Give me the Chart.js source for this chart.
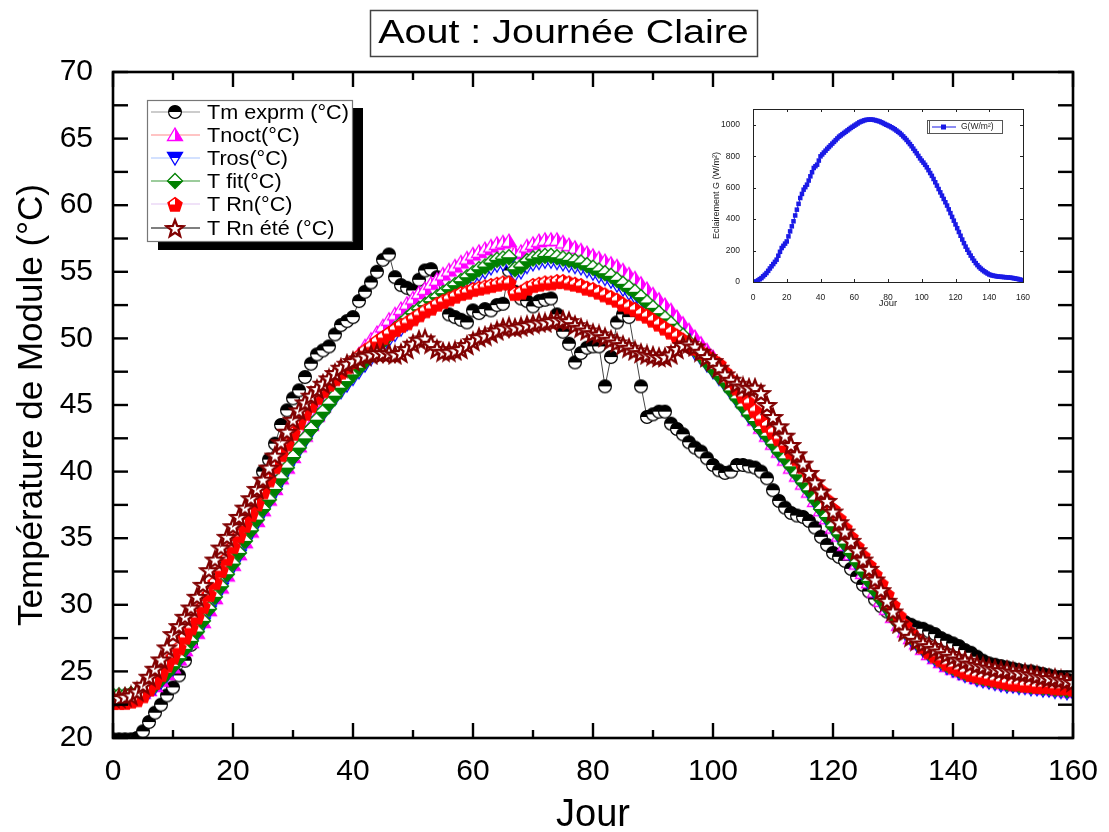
<!DOCTYPE html>
<html><head><meta charset="utf-8">
<script src="https://cdn.jsdelivr.net/npm/chart.js@4.4.0/dist/chart.umd.min.js"></script>
<style>html,body{margin:0;padding:0;background:#fff;}#wrap{position:relative;width:1109px;height:832px;}#main{position:absolute;left:0;top:0;}#inset{position:absolute;left:700px;top:95px;}</style>
</head><body><div id="wrap"><canvas id="main" width="1109" height="832"></canvas><canvas id="inset" width="340" height="215"></canvas></div>
<script>
const FONT = "'Liberation Sans', Arial, Helvetica, sans-serif";
const titre = 'Aout : Journée Claire';
const jours = [0,1,2,3,4,5,6,7,8,9,10,11,12,13,14,15,16,17,18,19,20,21,22,23,24,25,26,27,28,29,30,31,32,33,34,35,36,37,38,39,40,41,42,43,44,45,46,47,48,49,50,51,52,53,54,55,56,57,58,59,60,61,62,63,64,65,66,67,68,69,70,71,72,73,74,75,76,77,78,79,80,81,82,83,84,85,86,87,88,89,90,91,92,93,94,95,96,97,98,99,100,101,102,103,104,105,106,107,108,109,110,111,112,113,114,115,116,117,118,119,120,121,122,123,124,125,126,127,128,129,130,131,132,133,134,135,136,137,138,139,140,141,142,143,144,145,146,147,148,149,150,151,152,153,154,155,156,157,158,159,160];
const xTicks = [0,20,40,60,80,100,120,140,160];
const yTicks = [20,25,30,35,40,45,50,55,60,65,70];
const tmExprm = [19.9,19.9,19.9,19.9,20.0,20.5,21.2,21.9,22.5,23.2,
23.8,24.7,25.8,27.0,28.1,29.3,30.5,31.3,32.3,33.1,
33.9,34.8,35.6,37.6,38.4,40.0,40.9,42.1,43.5,44.6,
45.5,46.1,47.1,48.1,48.8,49.1,49.4,50.3,51.0,51.3,
51.6,52.8,53.5,54.2,55.0,55.9,56.3,54.6,54.0,53.8,
53.6,54.4,55.1,55.2,54.6,52.8,51.8,51.6,51.4,51.2,
52.1,51.9,52.2,52.1,52.5,52.6,55.1,53.5,53.0,52.8,
52.4,52.8,52.9,53.0,51.8,50.5,49.6,48.2,48.9,49.3,
49.4,49.4,46.4,48.6,51.2,51.8,51.6,null,46.4,44.1,
44.3,44.5,44.5,43.6,43.2,42.8,42.2,41.8,41.5,41.0,
40.5,40.1,39.9,40.0,40.5,40.5,40.4,40.3,40.0,39.5,
38.6,37.8,37.3,36.9,36.7,36.6,36.3,35.8,35.1,34.5,
33.9,33.6,33.3,32.7,32.1,31.5,31.0,30.4,29.9,29.5,
29.2,28.9,28.7,28.5,28.3,28.2,28.0,27.8,27.5,27.3,
27.1,26.9,26.6,26.4,26.1,25.8,25.6,25.5,25.4,25.3,
25.2,25.1,25.0,25.0,24.9,24.8,24.7,24.6,24.5,24.4,
24.3];
const tNoct = [23.2,23.2,23.2,23.3,23.3,23.4,23.6,23.9,24.3,24.8,
25.3,25.9,26.6,27.2,27.9,28.7,29.6,30.5,31.3,32.2,
33.0,33.8,34.7,35.5,36.3,37.1,37.9,38.7,39.5,40.3,
41.1,41.9,42.7,43.5,44.2,44.9,45.6,46.3,47.0,47.6,
48.2,48.8,49.4,49.9,50.4,50.9,51.4,51.8,52.2,52.6,
53.0,53.4,53.7,54.1,54.4,54.8,55.1,55.4,55.7,56.0,
56.3,56.5,56.7,56.9,57.1,57.2,57.3,56.4,56.5,56.9,
57.1,57.3,57.4,57.4,57.4,57.2,57.0,56.8,56.6,56.4,
56.2,56.0,55.8,55.6,55.4,55.1,54.8,54.5,54.1,53.7,
53.3,52.9,52.5,52.1,51.6,51.1,50.6,50.1,49.6,49.1,
48.6,48.0,47.4,46.7,46.0,45.3,44.6,43.9,43.3,42.7,
42.1,41.5,40.9,40.3,39.7,39.1,38.5,37.8,37.1,36.5,
35.8,35.2,34.5,33.8,33.1,32.4,31.7,31.0,30.3,29.7,
29.1,28.5,28.0,27.5,27.1,26.7,26.3,26.0,25.7,25.4,
25.2,25.0,24.8,24.7,24.5,24.4,24.3,24.2,24.1,24.0,
24.0,23.9,23.9,23.8,23.8,23.7,23.7,23.6,23.6,23.5,
23.5];
const tRos = [23.1,23.1,23.1,23.2,23.2,23.3,23.5,23.8,24.2,24.7,
25.2,25.8,26.5,27.1,27.8,28.6,29.5,30.4,31.2,32.1,
32.9,33.7,34.6,35.4,36.2,37.0,37.7,38.5,39.3,40.1,
40.9,41.6,42.3,43.0,43.7,44.3,44.9,45.5,46.0,46.5,
47.0,47.5,48.0,48.5,49.0,49.4,49.9,50.3,50.7,51.1,
51.5,51.8,52.1,52.4,52.7,53.0,53.3,53.6,53.9,54.2,
54.5,54.8,55.0,55.3,55.5,55.6,55.7,54.8,55.0,55.4,
55.6,55.7,55.8,55.8,55.7,55.6,55.5,55.4,55.3,55.1,
54.9,54.7,54.5,54.3,54.0,53.7,53.4,53.1,52.7,52.3,
51.9,51.5,51.1,50.7,50.3,49.9,49.4,48.9,48.5,48.0,
47.5,47.0,46.5,45.9,45.3,44.7,44.1,43.6,43.0,42.5,
41.9,41.3,40.8,40.2,39.6,39.0,38.4,37.7,37.0,36.4,
35.7,35.1,34.4,33.7,33.0,32.3,31.6,30.9,30.2,29.6,
29.0,28.4,27.9,27.4,27.0,26.6,26.2,25.9,25.6,25.3,
25.1,24.9,24.7,24.6,24.4,24.3,24.2,24.1,24.0,23.9,
23.9,23.8,23.8,23.7,23.7,23.6,23.6,23.5,23.5,23.4,
23.4];
const tFit = [23.2,23.2,23.2,23.3,23.3,23.4,23.7,24.0,24.4,24.9,
25.4,26.0,26.7,27.3,28.0,28.8,29.7,30.6,31.4,32.3,
33.1,33.9,34.8,35.6,36.4,37.2,37.9,38.7,39.5,40.3,
41.1,41.8,42.5,43.2,43.9,44.5,45.1,45.7,46.3,46.8,
47.3,47.8,48.3,48.8,49.3,49.8,50.3,50.7,51.1,51.5,
51.9,52.2,52.5,52.8,53.1,53.4,53.7,54.0,54.3,54.6,
54.9,55.2,55.4,55.7,55.9,56.0,56.1,55.2,55.4,55.8,
56.0,56.1,56.2,56.2,56.1,56.0,55.9,55.8,55.7,55.5,
55.3,55.1,54.9,54.7,54.4,54.1,53.8,53.5,53.1,52.7,
52.3,51.9,51.5,51.1,50.6,50.2,49.7,49.2,48.7,48.2,
47.7,47.2,46.7,46.1,45.5,44.9,44.3,43.8,43.2,42.7,
42.1,41.5,41.0,40.4,39.8,39.2,38.6,37.9,37.2,36.6,
35.9,35.3,34.6,33.9,33.2,32.5,31.8,31.1,30.4,29.8,
29.2,28.6,28.1,27.6,27.2,26.8,26.4,26.1,25.8,25.5,
25.3,25.1,24.9,24.8,24.6,24.5,24.4,24.3,24.2,24.1,
24.1,24.0,24.0,23.9,23.9,23.8,23.8,23.7,23.7,23.6,
23.6];
const tRn = [22.7,22.7,22.7,22.8,22.9,23.2,23.7,24.2,24.8,25.5,
26.1,26.8,27.6,28.3,29.1,29.9,30.8,31.7,32.6,33.5,
34.4,35.2,36.0,36.8,37.6,38.5,39.4,40.4,41.3,42.1,
42.9,43.7,44.4,45.0,45.6,46.1,46.6,47.0,47.5,47.9,
48.3,48.7,49.1,49.4,49.8,50.1,50.4,50.7,51.0,51.2,
51.5,51.8,52.1,52.3,52.6,52.8,53.0,53.2,53.4,53.5,
53.7,53.8,53.9,54.0,54.1,54.2,54.2,53.4,53.5,53.8,
54.0,54.1,54.2,54.2,54.3,54.3,54.2,54.1,54.0,53.8,
53.7,53.5,53.3,53.1,52.9,52.6,52.4,52.2,51.9,51.7,
51.4,51.1,50.8,50.5,50.2,49.9,49.6,49.3,49.0,48.7,
48.4,48.1,47.5,46.9,46.3,45.7,45.2,44.6,44.0,43.5,
43.0,42.5,42.0,41.5,41.0,40.4,39.8,39.2,38.6,37.9,
37.2,36.5,35.8,35.1,34.4,33.7,33.0,32.3,31.6,30.8,
30.0,29.2,28.5,27.9,27.4,26.9,26.5,26.2,25.9,25.6,
25.4,25.2,25.0,24.8,24.7,24.6,24.5,24.4,24.3,24.2,
24.1,24.1,24.0,24.0,23.9,23.9,23.9,23.8,23.8,23.8,
23.7];
const tRnEte = [23.0,23.0,23.1,23.2,23.5,24.0,24.6,25.2,25.9,26.8,
27.8,28.4,29.1,29.8,30.6,31.5,32.6,33.4,34.3,35.1,
35.9,36.6,37.3,38.0,38.7,39.4,40.3,41.2,42.2,43.0,
43.9,44.6,45.2,45.7,46.2,46.6,47.0,47.4,47.8,48.1,
48.3,48.5,48.7,48.8,48.9,48.9,48.9,48.8,48.9,49.2,
49.6,49.9,50.0,49.6,49.2,49.0,49.0,49.1,49.2,49.5,
49.8,50.1,50.2,50.4,50.6,50.8,50.9,50.8,50.9,51.0,
51.1,51.2,51.2,51.3,51.4,51.4,51.3,51.0,50.8,50.6,
50.4,50.3,50.1,49.9,49.7,49.5,49.3,49.1,48.9,48.8,
48.7,48.6,48.6,48.8,49.2,49.5,49.6,49.4,49.0,48.6,
48.3,47.8,47.3,46.9,46.6,46.4,46.3,46.3,45.9,45.0,
44.1,43.4,42.7,42.0,41.3,40.6,39.9,39.2,38.5,37.8,
37.0,36.2,35.5,34.8,34.1,33.4,32.7,31.9,31.1,30.3,
29.5,28.6,28.0,27.6,27.3,27.1,26.9,26.7,26.5,26.3,
26.1,25.9,25.8,25.6,25.5,25.4,25.3,25.2,25.1,25.1,
25.0,24.9,24.9,24.8,24.7,24.6,24.5,24.5,24.4,24.3,
24.2];
const eclairement = [0,0,4,10,18,25,36,46,57,71,
86,100,114,128,142,167,192,216,230,244,
258,290,322,354,386,423,460,497,534,560,
587,603,619,645,672,698,725,736,746,772,
799,811,823,835,847,858,869,880,891,902,
913,924,932,940,948,956,964,972,980,987,
994,1001,1008,1015,1020,1024,1028,1031,1032,1033,
1033,1032,1030,1027,1024,1021,1016,1011,1005,1000,
995,990,984,978,971,963,955,947,937,926,
915,903,890,877,863,848,833,818,802,786,
772,759,745,729,711,693,675,655,634,613,
591,570,549,528,507,486,462,438,414,390,
366,342,318,294,270,247,225,205,186,168,
151,135,120,107,95,85,76,68,61,54,
48,44,41,39,37,35,34,33,32,31,
30,29,28,27,25,23,21,19,16,13,
10];

// ---- marker images ----
function marker(pathFn, fillColor, half, stroke, lw){
  const S = 22, m = S/2;
  const c = document.createElement('canvas'); c.width = S; c.height = S;
  const g = c.getContext('2d');
  pathFn(g, m); g.fillStyle = '#fff'; g.fill();
  if (fillColor){
    g.save(); pathFn(g, m); g.clip(); g.fillStyle = fillColor;
    if (half === 'top') g.fillRect(0,0,S,m);
    else if (half === 'bottom') g.fillRect(0,m,S,m);
    else if (half === 'right') g.fillRect(m,0,m,S);
    else if (half === 'notTopLeft') { g.fillRect(0,0,S,S); g.fillStyle = '#fff'; g.fillRect(m-5,m-5,5,5.5); }
    g.restore();
  }
  pathFn(g, m); g.strokeStyle = stroke; g.lineWidth = lw; g.lineJoin = 'miter'; g.stroke();
  return c;
}
const pCircle = (g,m)=>{g.beginPath(); g.arc(m,m,6.4,0,Math.PI*2);};
const pTriUp = (g,m)=>{g.beginPath(); g.moveTo(m,m-7); g.lineTo(m+7.5,m+5.5); g.lineTo(m-7.5,m+5.5); g.closePath();};
const pTriDown = (g,m)=>{g.beginPath(); g.moveTo(m-7.5,m-5.5); g.lineTo(m+7.5,m-5.5); g.lineTo(m,m+7); g.closePath();};
const pDiamond = (g,m)=>{g.beginPath(); g.moveTo(m,m-7.5); g.lineTo(m+7.5,m); g.lineTo(m,m+7.5); g.lineTo(m-7.5,m); g.closePath();};
const pPenta = (g,m)=>{g.beginPath(); for(let k=0;k<5;k++){const a=-Math.PI/2+k*2*Math.PI/5; const px=m+7.3*Math.cos(a), py=m+1+7.3*Math.sin(a); k?g.lineTo(px,py):g.moveTo(px,py);} g.closePath();};
const pStar = (g,m)=>{g.beginPath(); for(let k=0;k<10;k++){const r=k%2?3.7:8.8; const a=-Math.PI/2+k*Math.PI/5; const px=m+r*Math.cos(a), py=m+1+r*Math.sin(a); k?g.lineTo(px,py):g.moveTo(px,py);} g.closePath();};

const imgTm = marker(pCircle,'#000','top','#000',1.2);
const imgNoct = marker(pTriUp,'#ff00ff','right','#ff00ff',1.3);
const imgRos = marker(pTriDown,'#0000ff','top','#0000ff',1.3);
const imgFit = marker(pDiamond,'#008000','bottom','#008000',1.3);
const imgRn = marker(pPenta,'#ff0000','notTopLeft','#ff0000',1.5);
const imgRnEte = marker(pStar,null,null,'#800000',2.3);

const series = [
  {label:'Tm exprm (°C)', data:tmExprm, line:'#444444', legendLine:'#9a9a9a', img:imgTm, order:6},
  {label:'Tnoct(°C)', data:tNoct, line:'#ff8a8a', legendLine:'#ff8a8a', img:imgNoct, order:5},
  {label:'Tros(°C)', data:tRos, line:'#8fb4ff', legendLine:'#a8c4ff', img:imgRos, order:4},
  {label:'T fit(°C)', data:tFit, line:'#1f8f1f', legendLine:'#3a9a3a', img:imgFit, order:3},
  {label:'T Rn(°C)', data:tRn, line:'#e2c6f2', legendLine:'#e2c6f2', img:imgRn, order:2},
  {label:'T Rn été (°C)', data:tRnEte, line:'#000000', legendLine:'#000000', img:imgRnEte, order:1}
];

function line(ctx,x1,y1,x2,y2){ctx.beginPath();ctx.moveTo(x1,y1);ctx.lineTo(x2,y2);ctx.stroke();}

const framePlugin = {
  id:'frame',
  afterDraw(chart){
    const {ctx, chartArea:a, scales:{x,y}} = chart;
    ctx.save();
    ctx.strokeStyle = '#000'; ctx.lineWidth = 2.6;
    ctx.strokeRect(a.left, a.top, a.right-a.left, a.bottom-a.top);
    ctx.lineWidth = 2.4;
    for (let i=0;i<xTicks.length;i++){
      const px = x.getPixelForValue(xTicks[i]);
      line(ctx,px,a.bottom,px,a.bottom-15); line(ctx,px,a.top,px,a.top+15);
      if (i < xTicks.length-1){
        const pm = x.getPixelForValue((xTicks[i]+xTicks[i+1])/2);
        line(ctx,pm,a.bottom,pm,a.bottom-8); line(ctx,pm,a.top,pm,a.top+8);
      }
    }
    for (let i=0;i<yTicks.length;i++){
      const vals = [yTicks[i]];
      if (i < yTicks.length-1) vals.push((yTicks[i]+yTicks[i+1])/2);
      vals.forEach(v=>{ const py = y.getPixelForValue(v);
        line(ctx,a.left,py,a.left+15,py); line(ctx,a.right,py,a.right-15,py); });
    }
    ctx.restore();
  }
};

const legendPlugin = {
  id:'boxLegend',
  afterDraw(chart){
    const ctx = chart.ctx;
    ctx.save();
    ctx.fillStyle = '#000'; ctx.fillRect(158,108,205,142);
    ctx.fillStyle = '#fff'; ctx.fillRect(147,100,206,142);
    ctx.strokeStyle = '#777'; ctx.lineWidth = 1.2; ctx.strokeRect(147.5,100.5,205,141);
    const rowY = [112,135,158,181,204,228];
    series.forEach((s,i)=>{
      const yy = rowY[i];
      ctx.strokeStyle = s.legendLine; ctx.lineWidth = 1.2; line(ctx,151,yy,200,yy);
      ctx.drawImage(s.img, 175-11, yy-11);
      ctx.save(); ctx.translate(207, yy+1); ctx.scale(1.08,1);
      ctx.fillStyle = '#000'; ctx.font = '20px ' + FONT; ctx.textAlign='left'; ctx.textBaseline='middle';
      ctx.fillText(s.label, 0, 0); ctx.restore();
    });
    ctx.restore();
  }
};

const titlePlugin = {
  id:'boxTitle',
  afterDraw(chart){
    const ctx = chart.ctx;
    ctx.save();
    ctx.strokeStyle = '#444'; ctx.lineWidth = 1.5; ctx.strokeRect(370.5,10.5,387,46);
    ctx.translate(563.5, 34); ctx.scale(1.16,1);
    ctx.fillStyle = '#000'; ctx.font = '34px ' + FONT; ctx.textAlign='center'; ctx.textBaseline='middle';
    ctx.fillText(titre, 0, 0);
    ctx.restore();
  }
};

new Chart(document.getElementById('main'), {
  type:'line',
  data:{ labels: jours, datasets: series.map(s=>({
    label:s.label, data:s.data, borderColor:s.line, backgroundColor:s.line, borderWidth:1,
    pointStyle:s.img, pointRadius:7, pointHoverRadius:7, tension:0, spanGaps:true, order:s.order, fill:false
  }))},
  options:{
    responsive:false, animation:false, devicePixelRatio:1, events:[],
    layout:{padding:{top:72,right:36,left:0,bottom:0}},
    plugins:{legend:{display:false}, tooltip:{enabled:false}, title:{display:false}},
    scales:{
      x:{type:'linear', min:0, max:160, grid:{display:false}, border:{display:false},
         afterBuildTicks: s=>{ s.ticks = xTicks.map(v=>({value:v})); },
         ticks:{color:'#000', font:{family:FONT,size:30}, padding:8, maxRotation:0, autoSkip:false},
         title:{display:true, text:'Jour', color:'#000', font:{family:FONT,size:38,lineHeight:0.85}, padding:{top:0,bottom:0}},
         afterFit: s=>{ s.height = 94; }},
      y:{type:'linear', min:20, max:70, grid:{display:false}, border:{display:false},
         afterBuildTicks: s=>{ s.ticks = yTicks.map(v=>({value:v})); },
         ticks:{color:'#000', font:{family:FONT,size:30}, padding:12, autoSkip:false},
         title:{display:true, text:'Température de Module (°C)', color:'#000', font:{family:FONT,size:35,lineHeight:1}, padding:{top:15}},
         afterFit: s=>{ s.width = 113; }}
    }
  },
  plugins:[framePlugin, legendPlugin, titlePlugin]
});

// ---- inset ----
const insetXTicks = [0,20,40,60,80,100,120,140,160];
const insetYTicks = [0,200,400,600,800,1000];
const insetFrame = {
  id:'insetFrame',
  afterDraw(chart){
    const {ctx, chartArea:a, scales:{x,y}} = chart;
    ctx.save(); ctx.strokeStyle='#222'; ctx.lineWidth=1;
    ctx.strokeRect(a.left+0.5, a.top+0.5, a.right-a.left, a.bottom-a.top);
    insetXTicks.forEach(v=>{ const px=Math.round(x.getPixelForValue(v))+0.5;
      line(ctx,px,a.bottom,px,a.bottom-3); line(ctx,px,a.top,px,a.top+3); });
    insetYTicks.forEach(v=>{ const py=Math.round(y.getPixelForValue(v))+0.5;
      line(ctx,a.left,py,a.left+3,py); line(ctx,a.right,py,a.right-3,py); });
    ctx.strokeStyle='#555'; ctx.strokeRect(227.5,25.5,75,13);
    line(ctx,229.5,25.5,229.5,38.5);
    ctx.strokeStyle='#1a1ae6'; line(ctx,232,32,256,32);
    ctx.fillStyle='#1a1ae6'; ctx.fillRect(241,29.5,5,5);
    ctx.fillStyle='#222'; ctx.font='8.5px '+FONT; ctx.textBaseline='middle'; ctx.textAlign='left';
    ctx.fillText('G(W/m²)', 261, 32);
    ctx.restore();
  }
};
new Chart(document.getElementById('inset'), {
  type:'line',
  data:{labels:jours, datasets:[{label:'G(W/m²)', data:eclairement, borderColor:'#1a1ae6', backgroundColor:'#1a1ae6',
    borderWidth:1, pointStyle:'rect', pointRadius:3.2, pointBorderWidth:0, tension:0}]},
  options:{
    responsive:false, animation:false, devicePixelRatio:1, events:[],
    layout:{padding:{top:14,right:17,left:0,bottom:0}},
    plugins:{legend:{display:false}, tooltip:{enabled:false}},
    scales:{
      x:{type:'linear', min:0, max:160, grid:{display:false}, border:{display:false},
         afterBuildTicks: s=>{ s.ticks = insetXTicks.map(v=>({value:v})); },
         ticks:{color:'#222', font:{family:FONT,size:8.5}, padding:3, maxRotation:0, autoSkip:false, callback:v=>String(v)},
         title:{display:true, text:'Jour', color:'#222', font:{family:FONT,size:9.5,lineHeight:1}, padding:{top:0,bottom:2}},
         afterFit: s=>{ s.height = 28; }},
      y:{type:'linear', min:0, max:1100, grid:{display:false}, border:{display:false},
         afterBuildTicks: s=>{ s.ticks = insetYTicks.map(v=>({value:v})); },
         ticks:{color:'#222', font:{family:FONT,size:8.5}, padding:5, autoSkip:false, callback:v=>String(v)},
         title:{display:true, text:'Eclairement G (W/m²)', color:'#222', font:{family:FONT,size:9,lineHeight:1}, padding:{top:12}},
         afterFit: s=>{ s.width = 53; }}
    }
  },
  plugins:[insetFrame]
});
</script></body></html>
